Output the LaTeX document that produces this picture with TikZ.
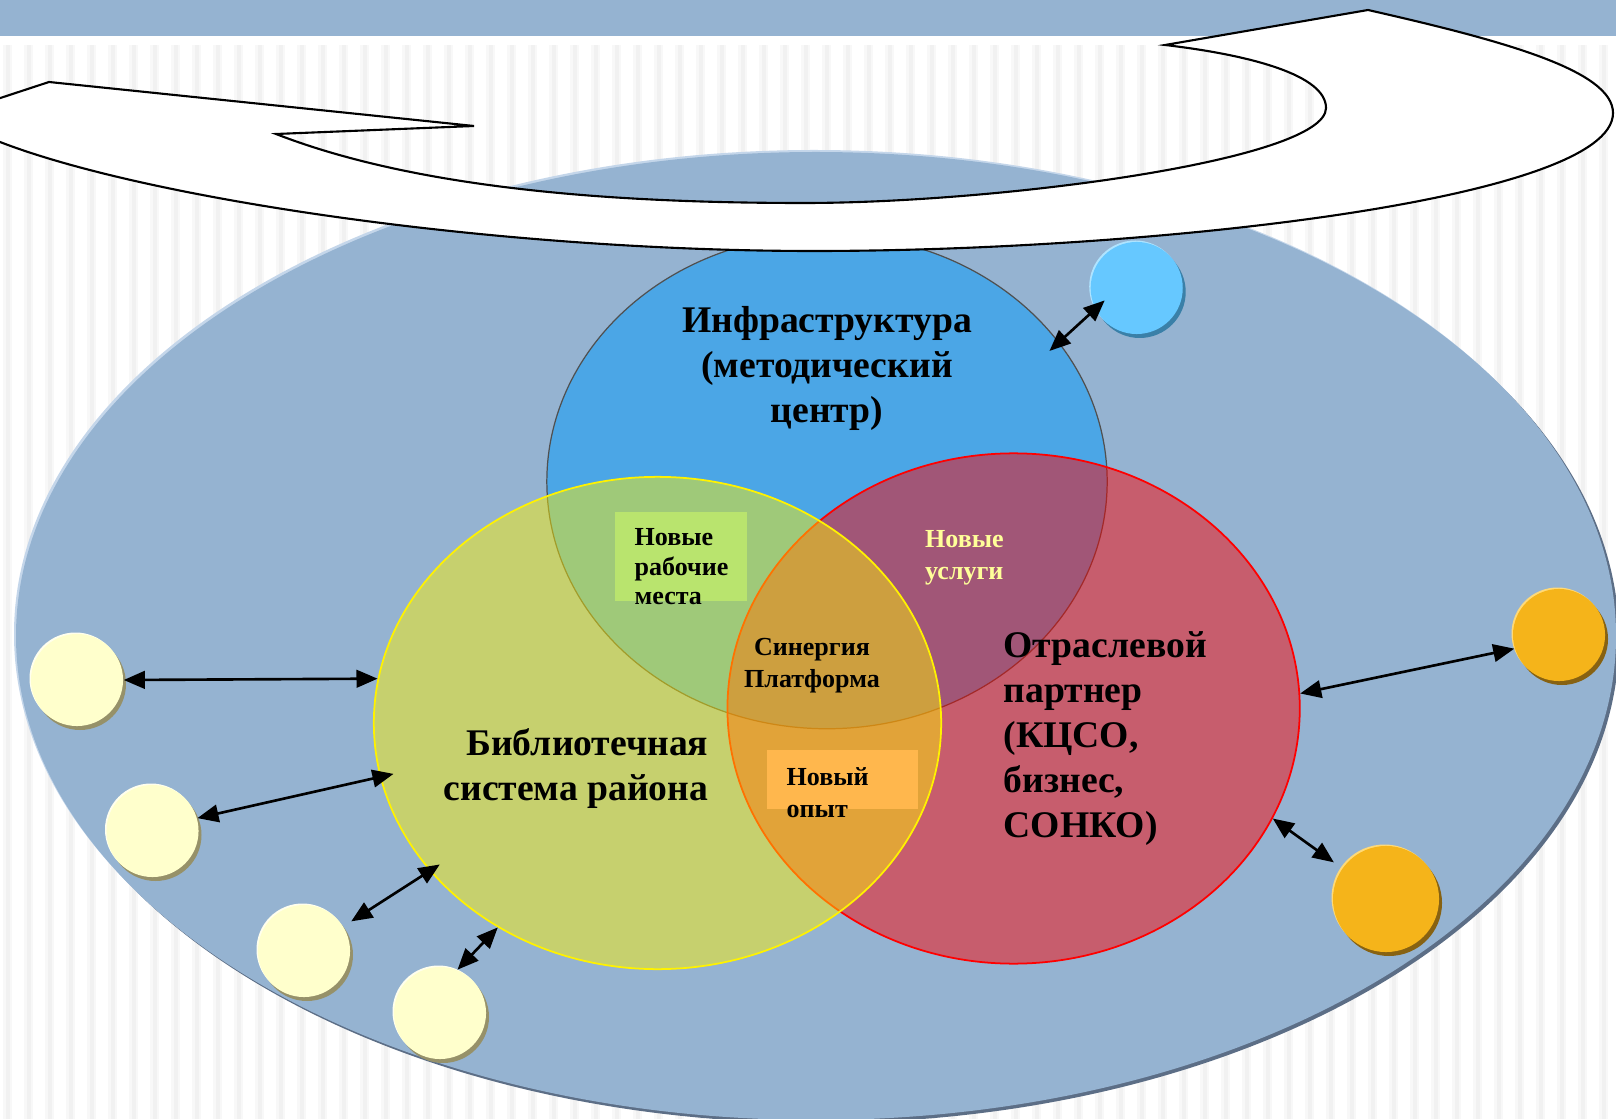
\documentclass[tikz,border=0pt]{standalone}
\usepackage{fontspec}
\setmainfont{Liberation Serif}
\usetikzlibrary{shapes.geometric,arrows.meta}
\definecolor{bandblue}{RGB}{149,179,209}
\definecolor{stripelight}{RGB}{248,248,248}
\definecolor{stripegray}{RGB}{241,241,241}
\definecolor{ellrim}{RGB}{196,214,234}
\definecolor{ellshadow}{RGB}{92,110,134}
\definecolor{infblue}{RGB}{75,166,230}
\definecolor{infedge}{RGB}{80,80,80}
\definecolor{cream}{RGB}{255,255,204}
\definecolor{creamrim}{RGB}{255,255,238}
\definecolor{creamshadow}{RGB}{150,145,105}
\definecolor{ball}{RGB}{245,180,26}
\definecolor{ballrim}{RGB}{255,218,120}
\definecolor{ballshadow}{RGB}{135,98,18}
\definecolor{skyball}{RGB}{102,200,255}
\definecolor{skyrim}{RGB}{175,228,255}
\definecolor{skyshadow}{RGB}{58,128,168}
\definecolor{boxgreen}{RGB}{185,228,110}
\definecolor{boxorange}{RGB}{255,183,77}
\definecolor{paleyellow}{RGB}{255,255,153}
\newcommand\myball[7]{%
  \fill[#7] (#2+3,#3+4) circle[radius=#4];
  \fill[#6] (#2-1.5,#3-1.5) circle[radius=#4];
  \node[circle,fill=#5,inner sep=0pt,minimum size={#4*0.02cm}] (#1) at (#2,#3) {};
}
\begin{document}
\begin{tikzpicture}[x=0.01cm,y=-0.01cm,
  bigtext/.style={font=\bfseries\fontsize{10.7}{12.8}\selectfont, inner sep=0pt},
  smalltext/.style={font=\bfseries\fontsize{7.4}{9.1}\selectfont, inner sep=0pt},
  link/.style={{Triangle[length=6pt,width=5pt]}-{Triangle[length=6pt,width=5pt]}, line width=0.75pt, draw=black},
  arrowshape/.style={fill=white, draw=black, line width=0.6pt}]
\useasboundingbox (0,0) rectangle (1616,1119);
% background
\fill[white] (0,0) rectangle (1616,1119);
\foreach \i in {0,...,77} {
  \fill[stripelight] (\i*21+3,45) rectangle ++(9,1074);
  \fill[stripegray] (\i*21+5.5,45) rectangle ++(4,1074);
}
\fill[bandblue] (0,0) rectangle (1616,36);
% big ellipse
\fill[ellshadow] (819,639) ellipse (800 and 484);
\fill[ellrim] (814,634) ellipse (800 and 484);
\fill[bandblue] (816,636) ellipse (800 and 484);
% Venn circles
\node[ellipse, minimum width=5.6cm, minimum height=4.94cm, inner sep=0pt,
  fill=infblue, draw=infedge, line width=0.35pt] (infra) at (827,481.6) {};
\node[ellipse, minimum width=5.72cm, minimum height=5.1cm, inner sep=0pt,
  fill=red, fill opacity=0.48, draw=red, line width=0.5pt] (partner) at (1013.6,708.5) {};
\node[ellipse, minimum width=5.67cm, minimum height=4.92cm, inner sep=0pt,
  fill=yellow, fill opacity=0.47, draw=yellow, line width=0.5pt] (lib) at (657.5,723) {};
% label boxes
\fill[boxgreen] (615,512) rectangle (747,601);
\fill[boxorange] (767,750) rectangle (918,809);
% texts
\node[bigtext, align=center] (tinfra) at (827,368) {Инфраструктура\\(методический\\центр)};
\node[bigtext, align=right, anchor=east] (tlib) at (709,769) {Библиотечная\\система района};
\node[bigtext, align=left, anchor=west] (tpart) at (1003,739) {Отраслевой\\партнер\\(КЦСО,\\бизнес,\\СОНКО)};
\node[smalltext, font=\bfseries\fontsize{7.4}{8.4}\selectfont, align=left, anchor=west] (tjobs) at (634,567) {Новые\\рабочие\\места};
\node[smalltext, text=paleyellow, align=left, anchor=west] (tserv) at (924.5,558) {Новые\\услуги};
\node[smalltext, align=center] (tsyn) at (812,666) {Синергия\\Платформа};
\node[smalltext, align=left, anchor=west] (texp) at (786,793) {Новый\\опыт};
% satellite balls
\myball{c1}{77}{680}{46}{cream}{creamrim}{creamshadow}
\myball{c2}{152.5}{831}{46}{cream}{creamrim}{creamshadow}
\myball{c3}{304}{951}{46}{cream}{creamrim}{creamshadow}
\myball{c4}{440}{1013}{46}{cream}{creamrim}{creamshadow}
\myball{o1}{1559}{635}{46}{ball}{ballrim}{ballshadow}
\myball{o2}{1386}{899}{53}{ball}{ballrim}{ballshadow}
\myball{sb}{1136.7}{288}{46}{skyball}{skyrim}{skyshadow}
% connectors
\draw[link] (c1.0) -- (lib.171);
\draw[link, shorten >=-0.14cm] (c2.16) -- (lib.191);
\draw[link, shorten <=0.09cm, shorten >=-0.12cm] (c3.32) -- (lib.213);
\draw[link] (c4.68) -- (lib.232);
\draw[link] (o1.197) -- (partner.3);
\draw[link, shorten <=0.1cm] (o2.145) -- (partner.337);
\draw[link, shorten <=-0.13cm, shorten >=-0.13cm] (sb.207) -- (infra.31);
% circular arrow
\draw[arrowshape] (-30,108) -- (49,82) -- (474,126) -- (276,134)
  .. controls (420,190) and (620,203) .. (804,203)
  .. controls (1000,203) and (1326,160) .. (1326,108)
  .. controls (1326,75) and (1250,55) .. (1165,45)
  -- (1368,10)
  .. controls (1500,40) and (1613,70) .. (1613,113)
  .. controls (1613,200) and (1150,251) .. (814,251)
  .. controls (500,251) and (150,200) .. (0,142)
  -- (-30,130) -- cycle;
\end{tikzpicture}
\end{document}
